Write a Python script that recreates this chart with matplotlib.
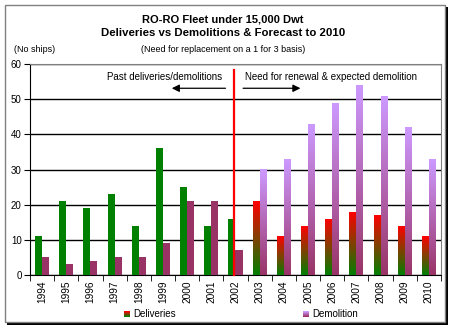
import matplotlib
matplotlib.use("Agg")
import matplotlib.pyplot as plt
import numpy as np
from matplotlib.colors import LinearSegmentedColormap
from matplotlib.patches import Rectangle

years = ["1994", "1995", "1996", "1997", "1998", "1999", "2000", "2001", "2002",
         "2003", "2004", "2005", "2006", "2007", "2008", "2009", "2010"]
deliveries = [11, 21, 19, 23, 14, 36, 25, 14, 16, 21, 11, 14, 16, 18, 17, 14, 11]
demolition = [5, 3, 4, 5, 5, 9, 21, 21, 7, 30, 33, 43, 49, 54, 51, 42, 33]
first_forecast = "2003"

plt.rcParams["font.family"] = ["Liberation Sans", "DejaVu Sans"]

W, H = 452, 328
fig = plt.figure(figsize=(W / 100, H / 100), dpi=100)
fig.patch.set_facecolor("white")

# chart frame with drop shadow
fig.patches.append(Rectangle((7 / W, 1 - 325 / H), 441 / W, 318 / H, transform=fig.transFigure,
                             facecolor="black", edgecolor="none", zorder=-2))
fig.patches.append(Rectangle((5 / W, 1 - 322 / H), 440 / W, 317 / H, transform=fig.transFigure,
                             facecolor="white", edgecolor="#808080", linewidth=1, zorder=-1))

ax = fig.add_axes([30 / W, 1 - 275 / H, 411 / W, 211 / H])
ax.set_facecolor("white")

n = len(years)
x = np.arange(n)
bw = 0.29
green = "#008000"
plum = "#993366"
del_cmap = LinearSegmentedColormap.from_list("del", [green, "#ff0000"])
dem_cmap = LinearSegmentedColormap.from_list("dem", [plum, "#cc99ff"])
NSEG = 60
frac = np.arange(NSEG) / NSEG


def gradient_bar(x0, value, cmap):
    # stack thin slices, bottom colour to top colour
    h = value / NSEG
    ax.bar(np.full(NSEG, x0), np.full(NSEG, h * 1.02), bottom=frac * value, width=bw,
           align="edge", color=cmap(frac + 0.5 / NSEG), linewidth=0, zorder=3)


fc = years.index(first_forecast)
for i in range(n):
    xd = x[i] - bw
    xm = x[i]
    if i < fc:
        ax.bar(xd, deliveries[i], width=bw, align="edge", color=green, linewidth=0, zorder=3)
        ax.bar(xm, demolition[i], width=bw, align="edge", color=plum, linewidth=0, zorder=3)
    else:
        gradient_bar(xd, deliveries[i], del_cmap)
        gradient_bar(xm, demolition[i], dem_cmap)

ax.set_xlim(-0.5, n - 0.5)
ax.set_ylim(0, 60)
ax.set_yticks(range(0, 61, 10))
ax.yaxis.grid(True, color="black", linewidth=1)
ax.set_axisbelow(True)
ax.set_xticks(x)
ax.set_xticklabels(years, rotation=90, fontsize=7.3)
ax.set_xticks(np.arange(-0.5, n, 1), minor=True)
ax.tick_params(axis="x", which="major", length=0, pad=4)
ax.tick_params(axis="x", which="minor", length=4, direction="out", color="black")
ax.tick_params(axis="y", length=4, direction="out", labelsize=7, pad=2)
for s in ("top", "right"):
    ax.spines[s].set_color("#808080")
for s in ("left", "bottom"):
    ax.spines[s].set_color("black")

# divider between history and forecast
ax.plot([fc - 1 - 0.05, fc - 1 - 0.05], [0, 58.3], color="#ff0000", linewidth=1.6, zorder=5,
        clip_on=False)

ax.annotate("", xy=(5.25, 53.1), xytext=(7.7, 53.1),
            arrowprops=dict(arrowstyle="-|>", color="black", lw=0.9, mutation_scale=11))
ax.annotate("", xy=(10.8, 53.1), xytext=(8.2, 53.1),
            arrowprops=dict(arrowstyle="-|>", color="black", lw=0.9, mutation_scale=11))
ax.text(7.45, 56.3, "Past deliveries/demolitions", ha="right", va="center", fontsize=7)
ax.text(8.38, 56.3, "Need for renewal & expected demolition", ha="left", va="center", fontsize=7)

# titles
fig.text(223 / W, 1 - 19 / H, "RO-RO Fleet under 15,000 Dwt", ha="center", va="center",
         fontsize=8, fontweight="bold")
fig.text(223 / W, 1 - 33 / H, "Deliveries vs Demolitions & Forecast to 2010", ha="center",
         va="center", fontsize=8.2, fontweight="bold")
fig.text(223 / W, 1 - 49 / H, "(Need for replacement on a 1 for 3 basis)", ha="center",
         va="center", fontsize=6.5)
fig.text(14 / W, 1 - 49 / H, "(No ships)", ha="left", va="center", fontsize=6.5)


# legend keys
def legend_key(px, py, cmap):
    for k in range(6):
        fig.patches.append(Rectangle((px / W, 1 - (py + 6 - k) / H), 6 / W, 1 / H,
                                     transform=fig.transFigure, facecolor=cmap(k / 5),
                                     edgecolor="none", zorder=1))


legend_key(124, 311, del_cmap)
fig.text(133 / W, 1 - 314 / H, "Deliveries", ha="left", va="center", fontsize=7)
legend_key(303, 311, dem_cmap)
fig.text(312 / W, 1 - 314 / H, "Demolition", ha="left", va="center", fontsize=7)

fig.savefig("out.png", dpi=100, facecolor="white")
